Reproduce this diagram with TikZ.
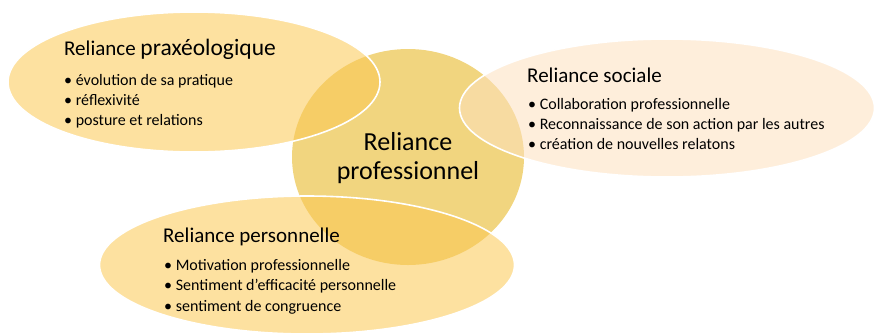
\documentclass[tikz,border=0pt]{standalone}
\usepackage{fontspec}
\setmainfont{Carlito}[Ligatures=ResetAll]
\usetikzlibrary{shapes.geometric}
\definecolor{proCol}{HTML}{F1D57F}
\definecolor{praxCol}{HTML}{FBC852}
\definecolor{socCol}{HTML}{FDE0BE}
\begin{document}
\begin{tikzpicture}[x=1pt,y=-1pt,
			core/.style={ellipse,fill=proCol,inner sep=0pt},
			blob/.style={ellipse,draw=white,line width=1.6pt,fill opacity=0.55,inner sep=0pt},
			titre/.style={anchor=base west,inner sep=0pt,font=\fontsize{21}{25}\selectfont},
			puce/.style={anchor=base west,inner sep=0pt,font=\fontsize{16}{19}\selectfont},
			centre/.style={anchor=base,inner sep=0pt,font=\fontsize{26}{31}\selectfont}]
			\useasboundingbox (0,0) rectangle (875,333);
			\node [core,minimum width=232pt,minimum height=216pt]	(Pro)		at (408,157)	{};
			\node [blob,fill=praxCol,minimum width=372pt,minimum height=140pt]	(Prax)	at (194,82)	{};
			\node [blob,fill=socCol,minimum width=415pt,minimum height=138pt]	(Soc)		at (667,108)	{};
			\node [blob,fill=praxCol,minimum width=415pt,minimum height=138pt]	(Pers)	at (307,265)	{};
			% reliance praxeologique
			\node [titre]	(PraxT)	at (64,55)	{Reliance {\fontsize{23.5}{28}\selectfont praxéologique}};
				\node [puce]	(PraxA)	at (64,85)	{\textbullet\ évolution de sa pratique};
				\node [puce]	(PraxB)	at (64,105)	{\textbullet\ réflexivité};
				\node [puce]	(PraxC)	at (64,125)	{\textbullet\ posture et relations};
			% reliance sociale
			\node [titre]	(SocT)	at (527,82)	{Reliance sociale};
				\node [puce]	(SocA)	at (528,109)	{\textbullet\ Collaboration professionnelle};
				\node [puce]	(SocB)	at (528,129)	{\textbullet\ Reconnaissance de son action par les autres};
				\node [puce]	(SocC)	at (528,149)	{\textbullet\ création de nouvelles relatons};
			% reliance personnelle
			\node [titre]	(PersT)	at (163,242)	{Reliance personnelle};
				\node [puce]	(PersA)	at (164,270)	{\textbullet\ Motivation professionnelle};
				\node [puce]	(PersB)	at (164,290)	{\textbullet\ Sentiment d'efficacité personnelle};
				\node [puce]	(PersC)	at (164,311)	{\textbullet\ sentiment de congruence};
			% reliance professionnel
			\node [centre]	(ProA)	at (408,150)	{Reliance};
			\node [centre]	(ProB)	at (408,179)	{professionnel};
		\end{tikzpicture}
\end{document}
